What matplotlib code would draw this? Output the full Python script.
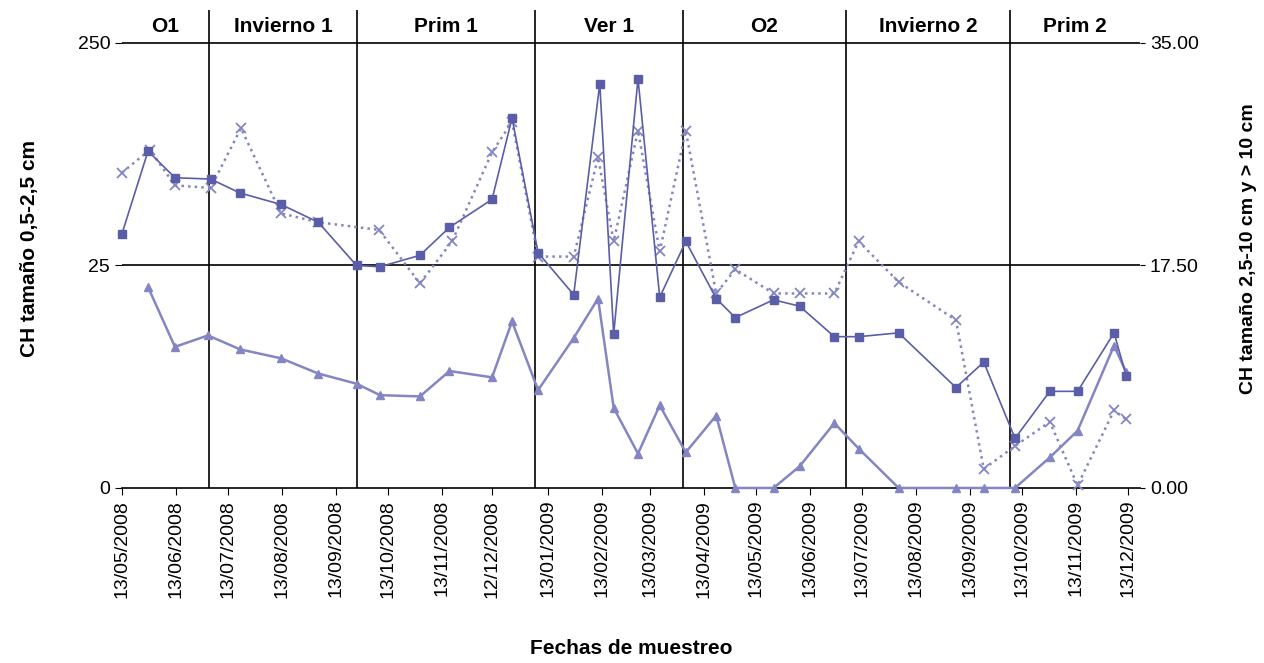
import matplotlib
matplotlib.use("Agg")
import matplotlib.pyplot as plt
import pandas as pd

plt.rcParams['font.family'] = ['Liberation Sans', 'DejaVu Sans']

start = pd.Timestamp("2008-05-13")
sq_days = [0,15,30.5,51,68,91.5,113,135,148.5,171.5,188.5,213,224.5,239.5,260,275,283,297,309.5,324.5,342,353,375,390,410,424,447,480,496,514,534,550,571,578]
sq_vals = [20.0,26.5,24.4,24.3,23.2,22.3,20.9,17.5,17.4,18.3,20.5,22.7,29.1,18.5,15.2,31.8,12.1,32.2,15.0,19.4,14.9,13.4,14.8,14.3,11.9,11.9,12.2,7.9,9.9,3.9,7.6,7.6,12.2,8.8]
cr_days = [0,16,30.5,51,68.5,91.5,113,148,171.5,190,213,224.5,239.5,260,274,283,297,309.5,324.5,342,353,375,390,410,424,447,480,496,514,534,550,571,578]
cr_vals = [24.8,26.6,23.8,23.6,28.3,21.6,20.9,20.3,16.1,19.4,26.4,28.8,18.2,18.2,26.0,19.4,28.1,18.6,28.1,15.3,17.2,15.3,15.3,15.3,19.4,16.2,13.2,1.5,3.3,5.2,0.2,6.1,5.4]
tr_days = [15,30.5,49.5,68,91.5,113,135,148.5,171.5,188.5,213,224.5,239.5,260,274,283,297,309.5,324.5,342,353,375,390,410,424,447,480,496,514,534,550,571,578]
tr_vals = [15.8,11.1,12.0,10.9,10.2,9.0,8.2,7.3,7.2,9.2,8.7,13.1,7.7,11.8,14.9,6.3,2.7,6.5,2.8,5.7,0,0,1.7,5.1,3.1,0,0,0,0,2.4,4.5,11.2,9.1]
seasons = ["O1","Invierno 1","Prim 1","Ver 1","O2","Invierno 2","Prim 2"]
season_bounds = [0,50,135.3,237.7,322.9,416.7,511,586]
tick_dates = ["13/05/2008","13/06/2008","13/07/2008","13/08/2008","13/09/2008","13/10/2008","13/11/2008","12/12/2008",
              "13/01/2009","13/02/2009","13/03/2009","13/04/2009","13/05/2009","13/06/2009","13/07/2009","13/08/2009",
              "13/09/2009","13/10/2009","13/11/2009","13/12/2009"]
left_labels = ["0","25","250"]
right_labels = ["0.00","17.50","35.00"]

fig = plt.figure(figsize=(12.64,6.63), dpi=100)
ax = fig.add_axes([0.0965,0.264,0.8055,0.721])
c1 = "#5a5ea8"; c2 = "#8486c4"
ax.plot(sq_days, sq_vals, '-s', color=c1, lw=1.2, ms=6, clip_on=False, zorder=4)
ax.plot(cr_days, cr_vals, ':x', color=c2, lw=1.8, ms=7, mew=1.3, clip_on=False, zorder=3)
ax.plot(tr_days, tr_vals, '-^', color=c2, lw=1.8, ms=6, clip_on=False, zorder=3)

ax.set_xlim(0,586); ax.set_ylim(0,37.6)
for y in [17.5,35]:
    ax.axhline(y, color='black', lw=1.2)
for b in season_bounds[1:-1]:
    ax.axvline(b, color='black', lw=1.2)
for i,s in enumerate(seasons):
    ax.text((season_bounds[i]+season_bounds[i+1])/2, 36.3, s, ha='center', va='center', fontsize=15, fontweight='bold')

for sp in ['top','right']:
    ax.spines[sp].set_visible(False)
ax.spines['bottom'].set_linewidth(1.2)
ax.spines['left'].set_visible(False)

ticks = [(pd.to_datetime(d, dayfirst=True)-start).days for d in tick_dates]
ax.set_xticks(ticks)
ax.set_xticklabels(tick_dates, rotation=90, fontsize=14)
ax.tick_params(axis='x', direction='out', length=5)
ax.set_yticks([0,17.5,35]); ax.set_yticklabels(left_labels, fontsize=14)
ax.tick_params(axis='y', length=5)
ax.set_ylabel("CH tamaño 0,5-2,5 cm", fontsize=15, fontweight='bold', labelpad=28)
ax.set_xlabel("Fechas de muestreo", fontsize=15, fontweight='bold', labelpad=30)

ax2 = ax.twinx()
ax2.set_ylim(ax.get_ylim())
ax2.set_yticks([0,17.5,35]); ax2.set_yticklabels(right_labels, fontsize=14)
for sp in ['top','right','left','bottom']:
    ax2.spines[sp].set_visible(False)
ax2.set_ylabel("CH tamaño 2,5-10 cm y > 10 cm", fontsize=14, fontweight='bold', labelpad=30)

fig.savefig("out.png", dpi=100)
